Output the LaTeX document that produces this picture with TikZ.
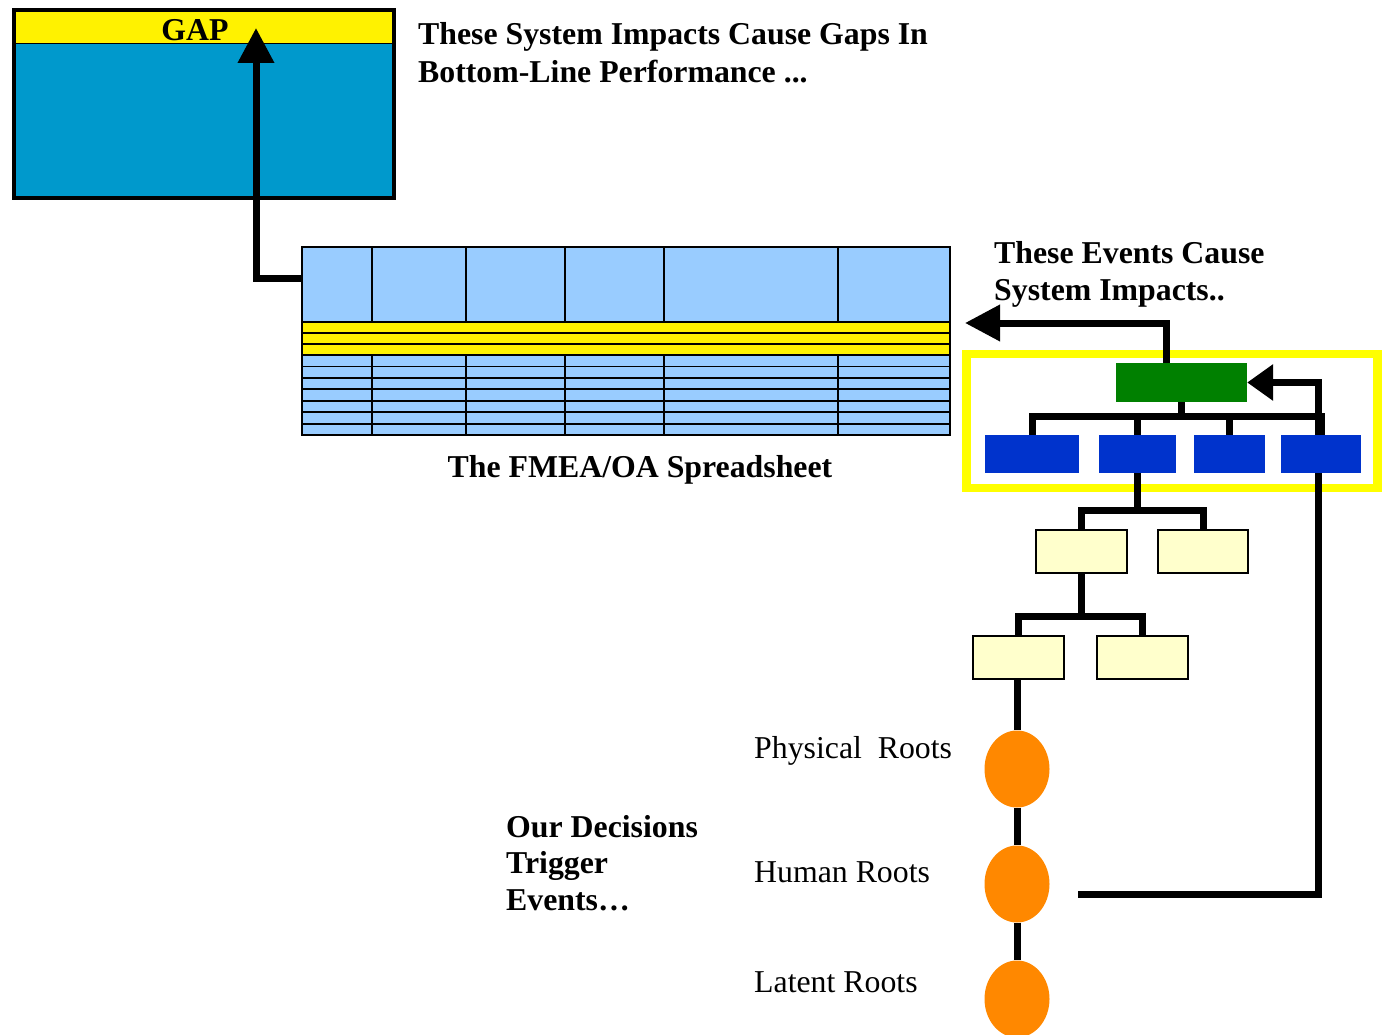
\documentclass[tikz,border=0pt]{standalone}
\usepackage{fontspec}
\setmainfont{Liberation Serif}
\usetikzlibrary{arrows.meta,shapes.geometric,calc}
\definecolor{gapblue}{RGB}{0,153,204}
\definecolor{sheetblue}{RGB}{153,204,255}
\definecolor{evgreen}{RGB}{0,128,0}
\definecolor{evblue}{RGB}{0,51,204}
\definecolor{cream}{RGB}{255,255,204}
\definecolor{rootorange}{RGB}{255,136,0}
\definecolor{frameyellow}{RGB}{255,255,0}
\pgfdeclarelayer{back}
\pgfdeclarelayer{lines}
\pgfsetlayers{back,lines,main}
\begin{document}
\begin{tikzpicture}[x=1pt,y=-1pt,
  lbl/.style={font=\fontsize{31.8}{37}\selectfont, anchor=base west, inner sep=0},
  blbl/.style={font=\fontsize{31.8}{37}\selectfont\bfseries, anchor=base west, inner sep=0},
  conn/.style={line width=7pt, draw=black},
  tipA/.style={-{Triangle[width=35pt,length=35pt]}},
  tipB/.style={-{Triangle[width=35pt,length=26pt]}},
  gridline/.style={line width=1.8pt, draw=black},
  evbox/.style={fill=evblue, minimum height=38pt, inner sep=0},
  treebox/.style={draw=black, line width=2pt, fill=cream, minimum width=91pt, minimum height=43pt, inner sep=0},
  rootnode/.style={ellipse, fill=rootorange, minimum width=65pt, minimum height=77pt, inner sep=0}
]
\useasboundingbox (0,0) rectangle (1387,1035);

% ---------- GAP box ----------
\begin{pgfonlayer}{back}
\fill[gapblue] (14,10) rectangle (394,198);
\node[blbl, anchor=base] (gaplbl) at (195,40.5) {GAP};
\begin{scope}
\clip (14,10) rectangle (394,44);
\fill[yellow] (14,10) rectangle (394,44);
\node[blbl, anchor=base] at (195,40.5) {GAP};
\end{scope}
\fill[gapblue] (14,44) rectangle (394,198);
\draw[line width=1pt] (14,44) -- (394,44);
\node[draw=black, line width=4.4pt, minimum width=380pt, minimum height=188pt, inner sep=0] (gapbox) at (204,104) {};
\node[draw=frameyellow, line width=8.5pt, minimum width=411pt, minimum height=134pt, inner sep=0] (frame) at (1172,421) {};
\end{pgfonlayer}

% ---------- spreadsheet ----------
\fill[sheetblue] (302,247) rectangle (950,435);
\fill[yellow] (302,322) rectangle (950,355);
\foreach \y in {322,333,344,355,366.4,377.9,389.3,400.7,412.1,423.6}
  \draw[gridline] (302,\y) -- (950,\y);
\foreach \x in {372,466,565,664,838} {
  \draw[gridline] (\x,247) -- (\x,322);
  \draw[gridline] (\x,355) -- (\x,435);
}
\draw[gridline] (302,247) rectangle (950,435);
\node[minimum width=648pt, minimum height=188pt, inner sep=0] (sheet) at (626,341) {};

% ---------- texts ----------
\node[blbl] (t1a) at (418,45) {These System Impacts Cause Gaps In};
\node[blbl] (t1b) at (418,83) {Bottom-Line Performance ...};
\node[blbl] (t2a) at (994,263) {These Events Cause};
\node[blbl] (t2b) at (994,300) {System Impacts..};
\node[blbl, anchor=base] (cap) at (640,477) {The FMEA/OA Spreadsheet};
\node[lbl] (l1) at (754,758) {Physical\ \ Roots};
\node[lbl] (l2) at (754,882) {Human Roots};
\node[lbl] (l3) at (754,992) {Latent Roots};
\node[blbl] (d1) at (506,837) {Our Decisions};
\node[blbl] (d2) at (506,873) {Trigger};
\node[blbl] (d3) at (506,910) {Events\ldots};

% ---------- event tree ----------
\node[fill=evgreen, minimum width=131pt, minimum height=39pt, inner sep=0] (green) at (1181.5,382.5) {};
\node[evbox, minimum width=94pt] (b1) at (1032,454) {};
\node[evbox, minimum width=77pt] (b2) at (1137.5,454) {};
\node[evbox, minimum width=71pt] (b3) at (1229.5,454) {};
\node[evbox, minimum width=80pt] (b4) at (1321,454) {};

\node[treebox] (cA) at (1081.5,551.5) {};
\node[treebox, minimum width=90pt] (cB) at (1203,551.5) {};
\node[treebox] (cC) at (1018.5,657.5) {};
\node[treebox] (cD) at (1142.5,657.5) {};

\node[rootnode] (r1) at (1017,769) {};
\node[rootnode] (r2) at (1017,884) {};
\node[rootnode] (r3) at (1017,999) {};

\coordinate (gaptip) at (256,28);
\coordinate (sheettip) at (965,323);
\coordinate (fbstart) at (1078,894);

% ---------- connectors ----------
\begin{pgfonlayer}{lines}
\draw[conn, tipA] (sheet.west |- 0,278) -| (gaptip);
\draw[conn, tipA] ([xshift=-15.5pt]green.north) |- (sheettip);
\draw[conn, tipB] (fbstart) -| ([xshift=71pt]green.east) -- (green.east);
\foreach \b in {b1,b2,b3,b4}
  \draw[conn] (green.south) -- ++(0,14) -| (\b.north);
\draw[conn] (b2.south) -- ++(0,37) -| (cA.north);
\draw[conn] (b2.south) -- ++(0,37) -| (cB.north);
\draw[conn] (cA.south) -- ++(0,42) -| (cC.north);
\draw[conn] (cA.south) -- ++(0,42) -| (cD.north);
\draw[conn] (cC.south -| r1.north) -- (r1.north);
\draw[conn] (r1.south) -- (r2.north);
\draw[conn] (r2.south) -- (r3.north);
\end{pgfonlayer}
\end{tikzpicture}
\end{document}
